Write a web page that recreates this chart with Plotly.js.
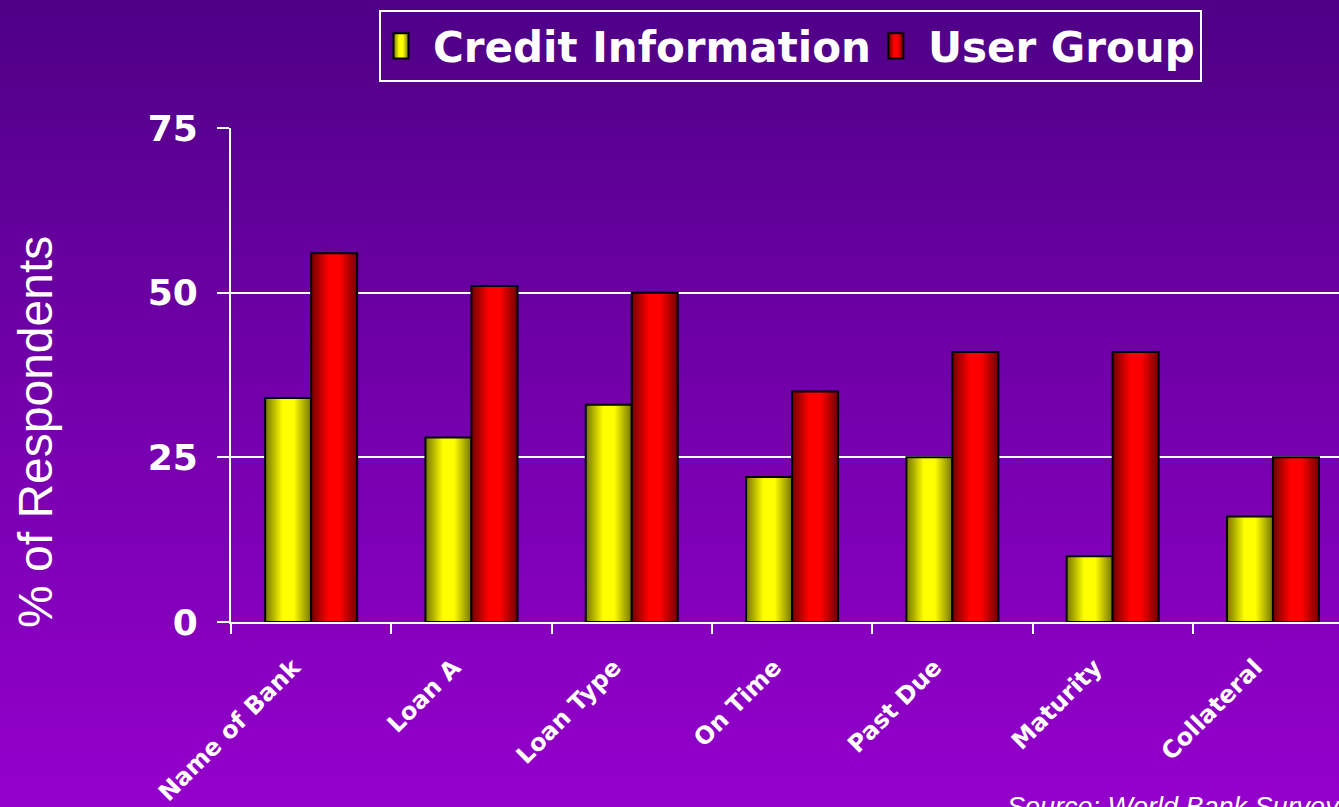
<!DOCTYPE html>
<html>
<head>
<meta charset="utf-8">
<script src="https://cdn.plot.ly/plotly-3.0.1.min.js"></script>
<style>
  html, body { margin: 0; padding: 0; width: 1339px; height: 807px; overflow: hidden;
    background: linear-gradient(to bottom, #4E0086 0%, #7000A8 45%, #9400CC 100%); }
  #chart { width: 1339px; height: 807px; }
</style>
</head>
<body>
<div id="chart"></div>
<script>
const categories = ["Name of Bank", "Loan A", "Loan Type", "On Time", "Past Due", "Maturity", "Collateral"];
const creditInformation = [34, 28, 33, 22, 25, 10, 16];
const userGroup = [56, 51, 50, 35, 41, 41, 25];
const yTicks = [0, 25, 50, 75];
const seriesColors = ["#FFFF00", "#FF0000"];
const seriesShades = ["#757500", "#700000"];

const traces = [
  {
    type: "bar", name: "Credit Information", x: categories, y: creditInformation,
    marker: { color: seriesColors[0], line: { color: "#000000", width: 2 } }
  },
  {
    type: "bar", name: "User Group", x: categories, y: userGroup,
    marker: { color: seriesColors[1], line: { color: "#000000", width: 2 } }
  }
];

const W = 1339, H = 807, L = 231, T = 128, B = 185;
const plotW = W - L, plotH = H - T - B;

const layout = {
  width: W, height: H,
  margin: { l: L, r: 0, t: T, b: B, pad: 0 },
  paper_bgcolor: "rgba(0,0,0,0)",
  plot_bgcolor: "rgba(0,0,0,0)",
  barmode: "group",
  bargap: 0.426,
  bargroupgap: 0,
  showlegend: true,
  hovermode: false,
  legend: {
    orientation: "h",
    x: (379 - L) / plotW, y: (H - B - 10) / plotH,
    xanchor: "left", yanchor: "top",
    bgcolor: "rgba(0,0,0,0)",
    bordercolor: "#FFFFFF", borderwidth: 2,
    font: { family: "DejaVu Sans", size: 42, color: "#FFFFFF", weight: "bold" },
    itemwidth: 42,
    traceorder: "normal"
  },
  xaxis: {
    type: "category",
    range: [-0.5, -0.5 + (W - L) / 160.3],
    showline: true, linecolor: "#FFFFFF", linewidth: 2,
    ticks: "outside", ticklen: 10, tickwidth: 2, tickcolor: "#FFFFFF",
    tickson: "boundaries",
    tickangle: -45,
    ticksuffix: "\u00A0\u00A0\u00A0",
    ticklabelstandoff: 2,
    showgrid: false, zeroline: false,
    tickfont: { family: "DejaVu Sans", size: 24, color: "#FFFFFF", weight: "bold" },
    fixedrange: true
  },
  yaxis: {
    range: [0, 75],
    tickvals: yTicks,
    ticktext: yTicks.map(String),
    showline: true, linecolor: "#FFFFFF", linewidth: 2,
    ticks: "outside", ticklen: 12, tickwidth: 2, tickcolor: "#FFFFFF",
    ticklabelstandoff: 12,
    showgrid: true, gridcolor: "#FFFFFF", gridwidth: 2,
    zeroline: false,
    tickfont: { family: "DejaVu Sans", size: 36, color: "#FFFFFF", weight: "bold" },
    fixedrange: true
  },
  annotations: [
    {
      text: "% of Respondents",
      xref: "paper", yref: "paper",
      x: (35 - L) / plotW, y: (H - B - 432) / plotH,
      xanchor: "center", yanchor: "middle",
      textangle: -90, showarrow: false,
      font: { family: "Liberation Sans", size: 48, color: "#FFFFFF" }
    },
    {
      text: "<i>Source: World Bank Survey</i>",
      xref: "paper", yref: "paper",
      x: (1005 - L) / plotW, y: (H - B - 790) / plotH,
      xanchor: "left", yanchor: "top",
      showarrow: false,
      font: { family: "Liberation Sans", size: 27, color: "#FFFFFF" }
    }
  ]
};

function addShading(gd) {
  const NS = "http://www.w3.org/2000/svg";
  const svg = gd.querySelector(".main-svg");
  let defs = svg.querySelector("defs");
  if (!defs) { defs = document.createElementNS(NS, "defs"); svg.insertBefore(defs, svg.firstChild); }
  seriesColors.forEach((c, i) => {
    const g = document.createElementNS(NS, "linearGradient");
    g.setAttribute("id", "barShade" + i);
    g.setAttribute("x1", "0"); g.setAttribute("x2", "1");
    g.setAttribute("y1", "0"); g.setAttribute("y2", "0");
    [[0, seriesShades[i]], [0.38, c], [0.62, c], [1, seriesShades[i]]].forEach(([o, col]) => {
      const s = document.createElementNS(NS, "stop");
      s.setAttribute("offset", o);
      s.setAttribute("stop-color", col);
      g.appendChild(s);
    });
    defs.appendChild(g);
  });
  gd.querySelectorAll(".barlayer .trace").forEach((t, i) => {
    t.querySelectorAll("path").forEach(p => { p.style.fill = "url(#barShade" + i + ")"; });
  });
  gd.querySelectorAll(".legend .traces").forEach((t, i) => {
    t.querySelectorAll(".legendpoints path").forEach(p => {
      p.style.fill = "url(#barShade" + i + ")";
      const tr = p.getAttribute("transform") || "";
      p.setAttribute("transform", tr + " translate(-6,0) scale(1.25,2.1)");
      p.style.vectorEffect = "non-scaling-stroke";
    });
  });
}

Plotly.newPlot("chart", traces, layout, { displayModeBar: false, staticPlot: true })
  .then(addShading);
</script>
</body>
</html>
